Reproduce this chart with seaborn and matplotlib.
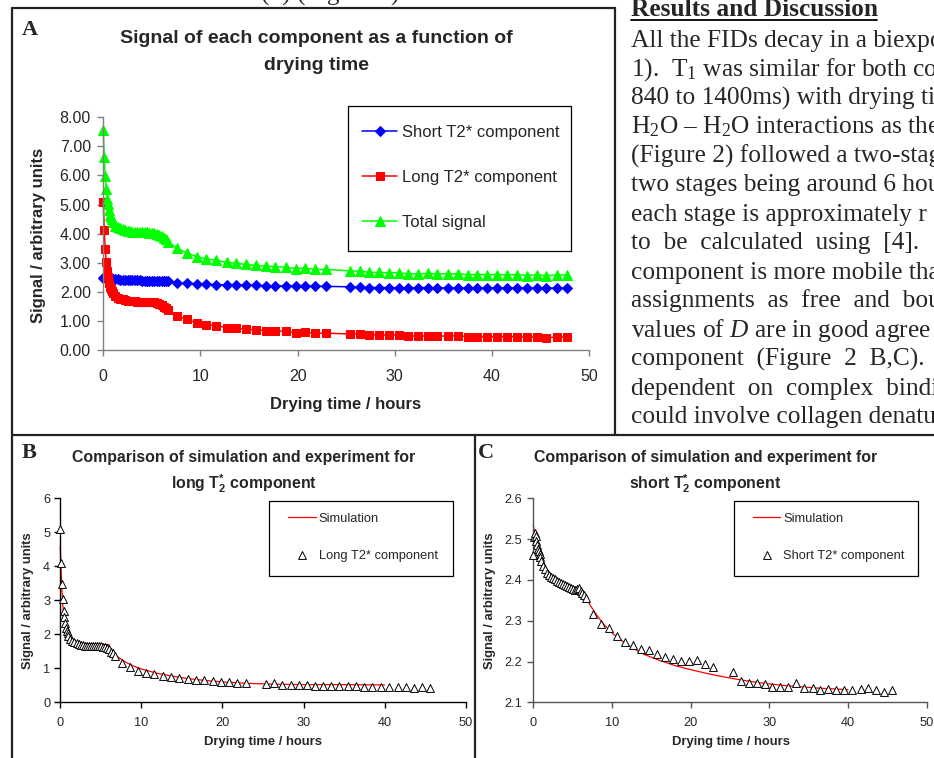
import matplotlib
matplotlib.use("Agg")
import matplotlib.pyplot as plt
from matplotlib.lines import Line2D
from matplotlib.patches import Rectangle
from matplotlib.ticker import FormatStrFormatter
import seaborn as sns

# Drying time of each FID (hours)
hours = [0, 0.1, 0.2, 0.3, 0.4, 0.5, 0.6, 0.7, 0.8, 0.9, 1.0, 1.25, 1.5, 1.75, 2.0, 2.25, 2.5,
         2.75, 3.0, 3.25, 3.5, 3.75, 4.0, 4.25, 4.5, 4.75, 5.0, 5.25, 5.5, 5.75, 6.0, 6.25, 6.5, 6.7,
         7.6, 8.6, 9.6, 10.6, 11.6, 12.7, 13.7, 14.7, 15.7, 16.7, 17.7, 18.8, 19.8, 20.8, 21.8, 22.9,
         25.4, 26.4, 27.4, 28.4, 29.4, 30.4, 31.4, 32.4, 33.4, 34.4, 35.5, 36.5, 37.5, 38.5, 39.5,
         40.5, 41.6, 42.6, 43.6, 44.6, 45.6, 46.7, 47.7]

short_t2 = [2.46, 2.506, 2.516, 2.508, 2.496, 2.485, 2.475, 2.472, 2.463, 2.455, 2.446, 2.434,
            2.426, 2.418, 2.412, 2.408, 2.404, 2.401, 2.398, 2.395, 2.392, 2.390, 2.388, 2.385,
            2.383, 2.381, 2.378, 2.375, 2.377, 2.379, 2.374, 2.369, 2.363, 2.355,
            2.316, 2.291, 2.281, 2.263, 2.247, 2.240, 2.231, 2.228, 2.218, 2.212, 2.206, 2.201,
            2.201, 2.204, 2.194, 2.186,
            2.174, 2.151, 2.148, 2.148, 2.144, 2.138, 2.138, 2.138, 2.148, 2.136, 2.136, 2.130,
            2.133, 2.130, 2.130, 2.130, 2.133, 2.134, 2.130, 2.125, 2.130, 2.128, 2.126]

long_t2 = [5.09, 4.11, 3.47, 3.03, 2.70, 2.52, 2.32, 2.18, 2.10, 2.03, 1.95, 1.85, 1.80, 1.76,
           1.74, 1.71, 1.70, 1.68, 1.67, 1.67, 1.66, 1.66, 1.66, 1.66, 1.66, 1.65, 1.65, 1.64,
           1.62, 1.59, 1.56, 1.49, 1.44, 1.36,
           1.17, 1.05, 0.93, 0.87, 0.84, 0.77, 0.75, 0.71, 0.69, 0.67, 0.66, 0.64, 0.60, 0.61,
           0.58, 0.58,
           0.55, 0.56, 0.52, 0.52, 0.51, 0.52, 0.48, 0.48, 0.48, 0.48, 0.48, 0.49, 0.46, 0.46,
           0.46, 0.46, 0.46, 0.46, 0.43, 0.46, 0.42, 0.45, 0.44]

total_signal = [7.55, 6.62, 5.99, 5.54, 5.20, 5.01, 4.80, 4.65, 4.56, 4.49, 4.40, 4.28, 4.23,
                4.18, 4.15, 4.12, 4.10, 4.08, 4.07, 4.07, 4.05, 4.05, 4.05, 4.05, 4.04, 4.03,
                4.03, 4.02, 4.00, 3.97, 3.93, 3.86, 3.80, 3.72,
                3.49, 3.34, 3.21, 3.13, 3.09, 3.01, 2.98, 2.94, 2.91, 2.88, 2.87, 2.84, 2.80,
                2.81, 2.77, 2.77,
                2.72, 2.71, 2.67, 2.67, 2.65, 2.66, 2.62, 2.62, 2.63, 2.62, 2.62, 2.62, 2.59,
                2.59, 2.59, 2.59, 2.59, 2.59, 2.56, 2.59, 2.55, 2.58, 2.57]

# panels B and C only show the FIDs up to ~46 h
n_fit = 71

# Simulated curves
sim_long_hours = [0, 0.1, 0.2, 0.3, 0.4, 0.5, 0.75, 1.0, 1.5, 2.0, 3.0, 4.0, 5.0, 6.0, 6.05, 6.5,
                  7.0, 8.0, 9.0, 10.0, 12.0, 14.0, 16.0, 18.0, 20.0, 22.0, 24.0, 27.0, 30.0, 35.0, 40.0]
sim_long = [4.60, 3.85, 3.30, 2.90, 2.60, 2.38, 2.10, 1.96, 1.84, 1.78, 1.73, 1.71, 1.70, 1.70,
            1.56, 1.45, 1.35, 1.19, 1.07, 0.98, 0.85, 0.76, 0.69, 0.64, 0.60, 0.57, 0.55, 0.53,
            0.52, 0.52, 0.51]

sim_short_hours = [0, 0.25, 0.5, 0.75, 1.0, 1.5, 2.0, 3.0, 4.0, 5.0, 6.0, 6.5, 7.0, 8.0, 9.0, 10.0,
                   12.0, 14.0, 16.0, 18.0, 20.0, 22.0, 24.0, 26.0, 28.0, 30.0, 32.0, 34.0, 36.0, 38.0, 40.0]
sim_short = [2.535, 2.505, 2.482, 2.465, 2.452, 2.432, 2.418, 2.400, 2.390, 2.382, 2.372, 2.362,
             2.345, 2.315, 2.290, 2.270, 2.240, 2.218, 2.203, 2.190, 2.180, 2.171, 2.163, 2.156,
             2.150, 2.145, 2.141, 2.138, 2.135, 2.133, 2.131]

# Text column on the right
heading = "Results and Discussion"
body_lines = [
    "All the FIDs decay in a biexponential",
    "1).  T$_\\mathrm{1}$ was similar for both comp",
    "840 to 1400ms) with drying time",
    "H$_\\mathrm{2}$O \u2013 H$_\\mathrm{2}$O interactions as the",
    "(Figure 2) followed a two-stage",
    "two stages being around 6 hours",
    "each stage is approximately r",
    "to  be  calculated  using  [4].   The",
    "component is more mobile than",
    "assignments  as  free  and  bound",
    "values of $\\mathit{D}$ are in good agree",
    "component  (Figure  2  B,C).   The",
    "dependent  on  complex  binding",
    "could involve collagen denaturation",
]

sns.set_style("ticks")
plt.rcParams["font.family"] = ["Liberation Sans", "DejaVu Sans"]
plt.rcParams["mathtext.fontset"] = "custom"
plt.rcParams["mathtext.rm"] = "Liberation Serif"
plt.rcParams["mathtext.it"] = "Liberation Serif:italic"
plt.rcParams["mathtext.bf"] = "Liberation Sans:bold"

W, H = 934, 758
fig = plt.figure(figsize=(W / 100, H / 100), dpi=100)
SERIF = ["Liberation Serif", "DejaVu Serif"]


def fx(x):
    return x / W


def fy(y):
    return 1 - y / H


def put(x, y, s, **kw):
    fig.text(fx(x), fy(y), s, **kw)


def hline(x0, x1, y, **kw):
    fig.add_artist(Line2D([fx(x0), fx(x1)], [fy(y), fy(y)], **kw))


def vline(x, y0, y1, **kw):
    fig.add_artist(Line2D([fx(x), fx(x)], [fy(y0), fy(y1)], **kw))


def frame(x0, y0, x1, y1):
    fig.add_artist(Rectangle((fx(x0), fy(y1)), fx(x1 - x0), (y1 - y0) / H,
                             transform=fig.transFigure, fill=False, ec="black", lw=0.9))


def make_axes(x0, y0, x1, y1):
    return fig.add_axes([fx(x0), fy(y1), fx(x1 - x0), (y1 - y0) / H])


def style_axes(ax, color, size, xpad, ypad):
    sns.despine(ax=ax)
    for side in ["left", "bottom"]:
        ax.spines[side].set_color(color)
        ax.spines[side].set_linewidth(1.0)
    ax.tick_params(direction="out", length=4, width=1, color=color, labelsize=size)
    ax.tick_params(axis="x", pad=xpad)
    ax.tick_params(axis="y", pad=ypad)
    ax.set_xlabel("")
    ax.set_ylabel("")


# page borders
border = dict(color="#222222", lw=1.6)
hline(12, 615, 8, **border)
vline(12, 8, 758, **border)
vline(615, 8, 435, **border)
hline(12, 934, 435, **border)
vline(475, 435, 758, **border)

# --- Panel A ---
axA = make_axes(103.3, 117.3, 589, 350)
sns.lineplot(x=hours, y=short_t2, ax=axA, color="#0000ff", lw=1.1, marker="D", markersize=5.5,
             markeredgecolor="#0000ff", label="Short T2* component", clip_on=False)
sns.lineplot(x=hours, y=long_t2, ax=axA, color="#ff0000", lw=1.1, marker="s", markersize=6,
             markeredgecolor="#ff0000", label="Long T2* component", clip_on=False)
sns.lineplot(x=hours, y=total_signal, ax=axA, color="#00ff00", lw=1.1, marker="^", markersize=7,
             markeredgecolor="#00ff00", label="Total signal", clip_on=False)
axA.set_xlim(0, 50)
axA.set_ylim(0, 8)
axA.set_xticks(range(0, 51, 10))
axA.set_yticks(range(0, 9))
axA.yaxis.set_major_formatter(FormatStrFormatter("%.2f"))
style_axes(axA, "#808080", 11.5, 10, 5)
axA.legend(loc="center left", bbox_to_anchor=(fx(362), fy(177.2)), bbox_transform=fig.transFigure,
           frameon=False, fontsize=12, labelspacing=1.8, handlelength=2.1, handletextpad=0.3,
           borderpad=0, borderaxespad=0)
frame(347.7, 106, 570.7, 251)

put(29.5, 30, "A", family=SERIF, fontsize=16, fontweight="bold", ha="center", va="center")
put(316, 43, "Signal of each component as a function of", fontsize=14, fontweight="bold",
    ha="center", va="baseline")
put(316, 70, "drying time", fontsize=14, fontweight="bold", ha="center", va="baseline")
put(39, 235, "Signal / arbitrary units", rotation=90, fontsize=12, fontweight="bold",
    ha="center", va="center")
put(346, 404, "Drying time / hours", fontsize=12, fontweight="bold", ha="center", va="center")

# --- Panel B ---
axB = make_axes(60.3, 498.3, 465.7, 702.3)
sns.lineplot(x=sim_long_hours, y=sim_long, ax=axB, color="#ff0000", lw=0.9, label="Simulation",
             clip_on=False)
sns.scatterplot(x=hours[:n_fit], y=long_t2[:n_fit], ax=axB, marker="^", s=32, color="white",
                edgecolor="black", linewidth=0.7, label="Long T2* component", clip_on=False, zorder=3)
axB.set_xlim(0, 50)
axB.set_ylim(0, 6)
axB.set_xticks(range(0, 51, 10))
axB.set_yticks(range(0, 7))
style_axes(axB, "black", 9.2, 6.5, 3.3)
axB.legend(loc="center left", bbox_to_anchor=(fx(288.3), fy(537.2)), bbox_transform=fig.transFigure,
           frameon=False, fontsize=9.3, labelspacing=1.9, handlelength=2.15, handletextpad=0.2,
           borderpad=0, borderaxespad=0)
frame(269.3, 500.7, 453.3, 575.7)

put(28.8, 453, "B", family=SERIF, fontsize=16, fontweight="bold", ha="center", va="center")
put(244, 462.4, "Comparison of simulation and experiment for", fontsize=11.4, fontweight="bold",
    ha="center", va="baseline")
put(244, 489, "long T$_\\mathbf{2}^\\mathbf{*}$ component", fontsize=11.4, fontweight="bold",
    ha="center", va="baseline")
put(28, 601, "Signal / arbitrary units", rotation=90, fontsize=9.4, fontweight="bold",
    ha="center", va="center")
put(263, 742, "Drying time / hours", fontsize=9.4, fontweight="bold", ha="center", va="center")

# --- Panel C ---
axC = make_axes(533.3, 498.3, 926.7, 702.3)
sns.lineplot(x=sim_short_hours, y=sim_short, ax=axC, color="#ff0000", lw=0.9, label="Simulation",
             clip_on=False)
sns.scatterplot(x=hours[:n_fit], y=short_t2[:n_fit], ax=axC, marker="^", s=32, color="white",
                edgecolor="black", linewidth=0.7, label="Short T2* component", clip_on=False, zorder=3)
axC.set_xlim(0, 50)
axC.set_ylim(2.1, 2.6)
axC.set_xticks(range(0, 51, 10))
axC.set_yticks([2.1, 2.2, 2.3, 2.4, 2.5, 2.6])
axC.yaxis.set_major_formatter(FormatStrFormatter("%.1f"))
style_axes(axC, "#555555", 9.2, 6.5, 4.3)
axC.legend(loc="center left", bbox_to_anchor=(fx(752.7), fy(537.2)), bbox_transform=fig.transFigure,
           frameon=False, fontsize=9.3, labelspacing=1.9, handlelength=2.15, handletextpad=0.2,
           borderpad=0, borderaxespad=0)
frame(734.3, 500.7, 917.7, 575.7)

put(486, 453, "C", family=SERIF, fontsize=16, fontweight="bold", ha="center", va="center")
put(705.5, 462.4, "Comparison of simulation and experiment for", fontsize=11.4, fontweight="bold",
    ha="center", va="baseline")
put(705.5, 489, "short T$_\\mathbf{2}^\\mathbf{*}$ component", fontsize=11.4, fontweight="bold",
    ha="center", va="baseline")
put(490.5, 601, "Signal / arbitrary units", rotation=90, fontsize=9.4, fontweight="bold",
    ha="center", va="center")
put(730.5, 742, "Drying time / hours", fontsize=9.4, fontweight="bold", ha="center", va="center")

# --- surrounding page text ---
put(330, 1, "(4) (Figure 1)", family=SERIF, fontsize=18.3, ha="center", va="baseline")
put(631, 15.5, heading, family=SERIF, fontsize=18.3, fontweight="bold", ha="left", va="baseline")
hline(631, 877, 19.5, color="black", lw=1.3)
for i, line in enumerate(body_lines):
    put(631, 46.5 + 29 * i, line, family=SERIF, fontsize=18.3, ha="left", va="baseline")

fig.savefig("out.png", dpi=100)
plt.close(fig)
